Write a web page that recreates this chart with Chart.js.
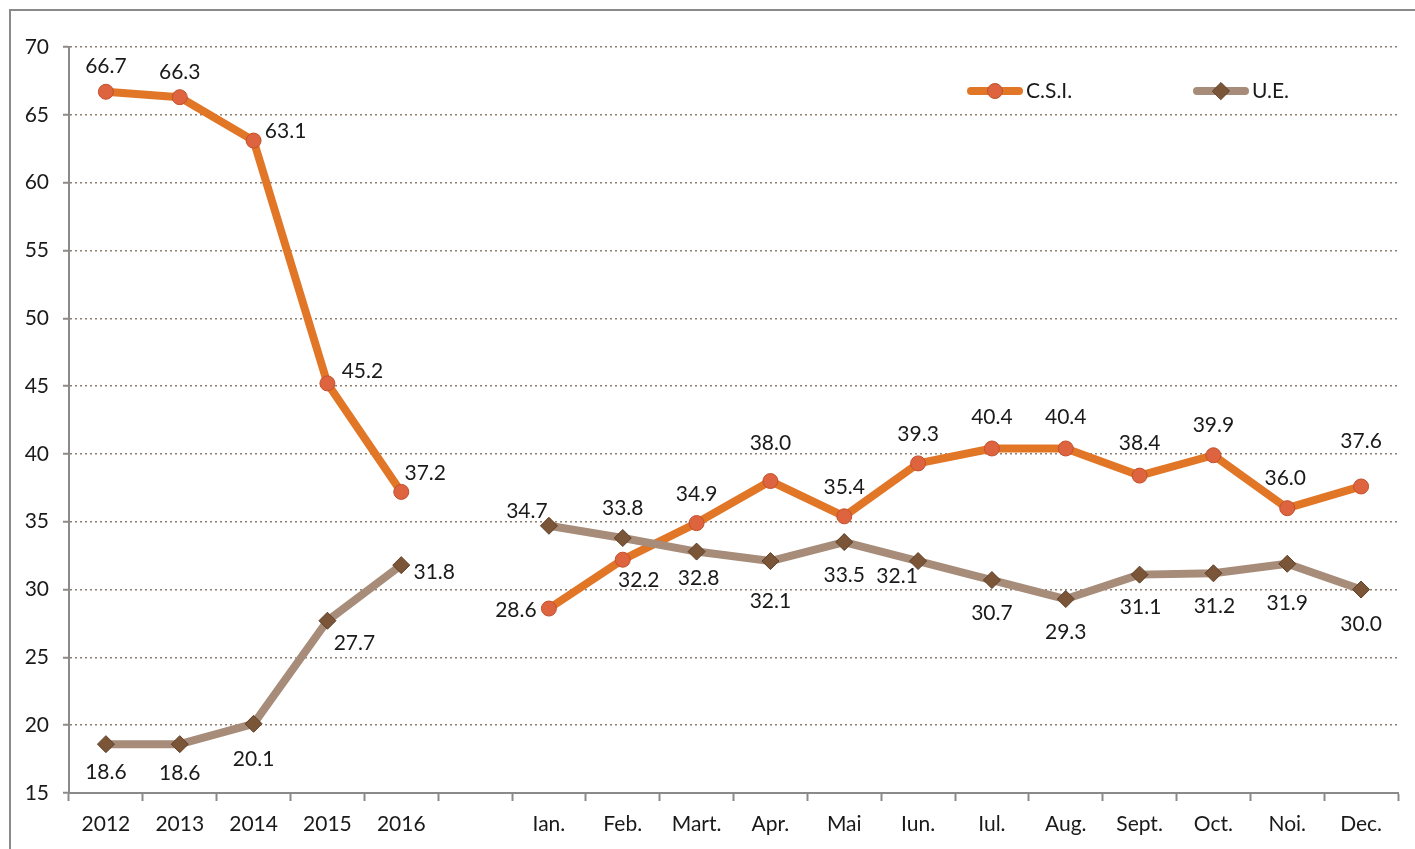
<!DOCTYPE html>
<html><head><meta charset="utf-8">
<script src="https://cdn.jsdelivr.net/npm/chart.js@4"></script>
<style>
html,body{margin:0;padding:0;background:#fff;overflow:hidden;}
#wrap{position:relative;width:1415px;height:849px;overflow:hidden;}
#frame{position:absolute;left:9px;top:9px;width:1440px;height:900px;border-top:2px solid #8a8a8a;border-left:2px solid #8a8a8a;}
canvas{position:absolute;left:0;top:0;}
</style></head><body>
<div id="wrap"><div id="frame"></div><canvas id="c" width="1415" height="849"></canvas></div>
<script>
// ---- data ----
const categories = ['2012','2013','2014','2015','2016','','Ian.','Feb.','Mart.','Apr.','Mai','Iun.','Iul.','Aug.','Sept.','Oct.','Noi.','Dec.'];
const seriesNames = ['C.S.I.','U.E.'];
const csiValues = [66.7,66.3,63.1,45.2,37.2,null,28.6,32.2,34.9,38.0,35.4,39.3,40.4,40.4,38.4,39.9,36.0,37.6];
const ueValues  = [18.6,18.6,20.1,27.7,31.8,null,34.7,33.8,32.8,32.1,33.5,32.1,30.7,29.3,31.1,31.2,31.9,30.0];
const yMin = 15, yMax = 70, yStep = 5;

// ---- label placement (style only) ----
const csiLabelShift = [[0,-26],[0,-25],[32,-9],[35,-12],[24,-19],[0,0],[-33,2],[16,21],[0,-29],[0,-38],[0,-29],[0,-29],[0,-31],[0,-31],[0,-32],[0,-30],[-2,-30],[0,-45]];
const ueLabelShift  = [[0,28],[0,29],[0,35],[27,22],[33,7],[0,0],[-22,-15],[0,-30],[2,27],[0,40],[0,33],[-21,15],[0,33],[0,33],[1,33],[1,33],[0,39],[0,35]];

const FONT = 'Lato, "Open Sans", sans-serif';
const FSIZE = 21;
const ORANGE = '#E27627', ORANGE_PT = '#DE6440', ORANGE_PT_B = '#C24F2C';
const TAUPE = '#A68C79', TAUPE_PT = '#7A5537', TAUPE_PT_B = '#5E3F27';

const valueLabels = {
  id: 'valueLabels',
  afterDatasetsDraw(chart) {
    const ctx = chart.ctx;
    ctx.save();
    ctx.font = FSIZE + 'px ' + FONT;
    ctx.fillStyle = '#1a1a1a';
    ctx.textAlign = 'center';
    ctx.textBaseline = 'middle';
    chart.data.datasets.forEach((ds, i) => {
      const meta = chart.getDatasetMeta(i);
      meta.data.forEach((pt, j) => {
        const v = ds.data[j];
        if (v == null) return;
        const s = ds.labelShift[j];
        ctx.fillText(v.toFixed(1), pt.x + s[0], pt.y + s[1]);
      });
    });
    ctx.restore();
  }
};

const customLegend = {
  id: 'customLegend',
  afterDraw(chart) {
    const ctx = chart.ctx;
    const items = [
      {x: 967, ds: chart.data.datasets[0]},
      {x: 1193, ds: chart.data.datasets[1]}
    ];
    const y = 91;
    ctx.save();
    items.forEach(it => {
      const ds = it.ds;
      ctx.strokeStyle = ds.borderColor;
      ctx.lineWidth = 8;
      ctx.lineCap = 'round';
      ctx.beginPath();
      ctx.moveTo(it.x + 4, y);
      ctx.lineTo(it.x + 52, y);
      ctx.stroke();
      ctx.fillStyle = ds.pointBackgroundColor;
      ctx.strokeStyle = ds.pointBorderColor;
      ctx.lineWidth = 1;
      Chart.helpers.drawPoint(ctx, {pointStyle: ds.pointStyle, radius: ds.pointRadius, rotation: 0, borderWidth: 1}, it.x + 28, y);
      ctx.fillStyle = '#1a1a1a';
      ctx.font = FSIZE + 'px ' + FONT;
      ctx.textAlign = 'left';
      ctx.textBaseline = 'middle';
      ctx.fillText(ds.label, it.x + 59, y);
    });
    ctx.restore();
  }
};

new Chart(document.getElementById('c'), {
  type: 'line',
  data: {
    labels: categories,
    datasets: [
      {
        label: seriesNames[0], data: csiValues, labelShift: csiLabelShift,
        borderColor: ORANGE, borderWidth: 8, borderJoinStyle: 'round', borderCapStyle: 'round',
        pointStyle: 'circle', pointRadius: 7.5, pointBackgroundColor: ORANGE_PT, pointBorderColor: ORANGE_PT_B, pointBorderWidth: 1,
        pointHoverRadius: 7.5, tension: 0, spanGaps: false, clip: false, order: 2
      },
      {
        label: seriesNames[1], data: ueValues, labelShift: ueLabelShift,
        borderColor: TAUPE, borderWidth: 8, borderJoinStyle: 'round', borderCapStyle: 'round',
        pointStyle: 'rectRot', pointRadius: 8.5, pointBackgroundColor: TAUPE_PT, pointBorderColor: TAUPE_PT_B, pointBorderWidth: 1,
        pointHoverRadius: 8.5, tension: 0, spanGaps: false, clip: false, order: 1
      }
    ]
  },
  options: {
    responsive: false,
    animation: false,
    devicePixelRatio: 1,
    layout: { autoPadding: false, padding: { left: 0, top: 47, right: 17, bottom: 0 } },
    plugins: { legend: { display: false }, tooltip: { enabled: false }, title: { display: false } },
    scales: {
      x: {
        type: 'category',
        offset: true,
        grid: { offset: true, drawOnChartArea: false, drawTicks: true, tickLength: 8, tickColor: '#8a8a8a', tickWidth: 2 },
        border: { display: true, color: '#8a8a8a', width: 2 },
        ticks: { color: '#1a1a1a', font: { family: FONT, size: FSIZE }, padding: 11, maxRotation: 0, autoSkip: false },
        afterFit(scale) { scale.height = 56; }
      },
      y: {
        min: yMin, max: yMax,
        grid: { color: '#8e8070', lineWidth: 1.5, tickColor: '#8a8a8a', tickWidth: 2, tickLength: 6, tickBorderDash: [] },
        border: { display: true, color: '#8a8a8a', width: 2, dash: [2, 3] },
        ticks: { stepSize: yStep, color: '#1a1a1a', font: { family: FONT, size: FSIZE }, padding: 14 },
        afterFit(scale) { scale.width = 69; }
      }
    }
  },
  plugins: [valueLabels, customLegend]
});
</script>
</body></html>
